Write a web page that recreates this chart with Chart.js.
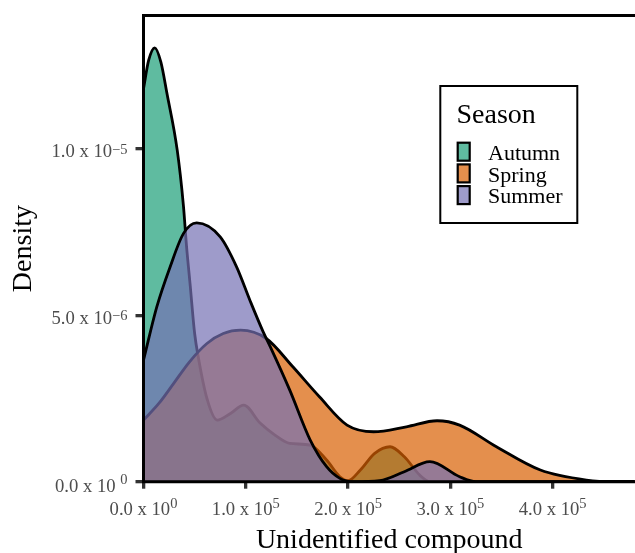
<!DOCTYPE html>
<html>
<head>
<meta charset="utf-8">
<script src="https://cdn.jsdelivr.net/npm/chart.js@4"></script>
<style>
  html, body { margin: 0; padding: 0; background: #fff; }
  #wrap { width: 635px; height: 553px; }
</style>
</head>
<body>
<div id="wrap"><canvas id="myChart" width="635" height="553"></canvas></div>
<script>
// density curves (x = compound, y = density)
const seasons = ['Autumn', 'Spring', 'Summer'];

const autumnX = [0, 5e3, 11e3, 17e3, 23e3, 33e3, 39e3, 42e3, 45.5e3, 50e3, 53.5e3, 62e3, 72e3, 85e3, 98e3, 114e3, 128.5e3, 143e3, 163e3, 179e3, 192e3, 200e3, 212e3, 226e3, 241e3, 255e3, 270e3, 280e3, 480e3];
const autumnY = [11.8e-6, 12.65e-6, 13.03e-6, 12.6e-6, 11.65e-6, 9.95e-6, 8.3e-6, 7.1e-6, 5.95e-6, 4.45e-6, 3.75e-6, 2.5e-6, 1.85e-6, 2.05e-6, 2.3e-6, 1.76e-6, 1.4e-6, 1.15e-6, 1.1e-6, 0.65e-6, 0.15e-6, 0.03e-6, 0.35e-6, 0.85e-6, 1.05e-6, 0.75e-6, 0.2e-6, 0, 0];

const springX = [0, 15e3, 29e3, 45e3, 62e3, 78e3, 95e3, 120e3, 146e3, 172e3, 199e3, 225e3, 257e3, 287e3, 309e3, 345e3, 388e3, 433e3, 460e3, 480e3];
const springY = [1.85e-6, 2.35e-6, 2.93e-6, 3.6e-6, 4.15e-6, 4.45e-6, 4.55e-6, 4.3e-6, 3.45e-6, 2.55e-6, 1.7e-6, 1.5e-6, 1.65e-6, 1.83e-6, 1.7e-6, 1.05e-6, 0.35e-6, 0.05e-6, 0, 0];

const summerX = [0, 13e3, 26e3, 39e3, 52e3, 75e3, 91e3, 104e3, 117e3, 124e3, 143e3, 163e3, 179e3, 192e3, 205e3, 231e3, 255e3, 280e3, 309e3, 325e3, 480e3];
const summerY = [3.65e-6, 5.25e-6, 6.45e-6, 7.45e-6, 7.77e-6, 7.35e-6, 6.45e-6, 5.45e-6, 4.5e-6, 4.05e-6, 2.75e-6, 1.25e-6, 0.45e-6, 0.1e-6, 0, 0.03e-6, 0.3e-6, 0.6e-6, 0.15e-6, 0, 0];

const xTickValues = [0, 1e5, 2e5, 3e5, 4e5];
const xTickBase = ['0.0 x 10', '1.0 x 10', '2.0 x 10', '3.0 x 10', '4.0 x 10'];
const xTickSup = ['0', '5', '5', '5', '5'];

const yTickValues = [0, 5e-6, 1e-5];
const yTickBase = ['0.0 x 10 ', '5.0 x 10', '1.0 x 10'];
const yTickSup = ['0', '\u22126', '\u22125'];

const colors = ['rgba(27,158,119,0.7)', 'rgba(217,95,2,0.7)', 'rgba(117,112,179,0.7)'];

const SERIF = '"Liberation Serif", "Times New Roman", serif';

function pts(xs, ys) {
    return xs.map((x, i) => ({ x: x, y: ys[i] }));
}

function supLabel(ctx, base, sup, x, y, align, raise) {
    ctx.font = '18.67px ' + SERIF;
    const wb = ctx.measureText(base).width;
    ctx.font = '14.5px ' + SERIF;
    const ws = ctx.measureText(sup).width;
    const left = align === 'right' ? x - wb - ws : x - (wb + ws) / 2;
    ctx.textAlign = 'left';
    ctx.textBaseline = 'alphabetic';
    ctx.font = '18.67px ' + SERIF;
    ctx.fillText(base, left, y);
    ctx.font = '14.5px ' + SERIF;
    ctx.fillText(sup, left + wb, y - raise);
}

// frame, tick labels and the boxed legend
const extras = {
    id: 'extras',
    afterDatasetsDraw(chart) {
        const ctx = chart.ctx;
        const a = chart.chartArea;
        ctx.save();
        ctx.strokeStyle = '#000';
        ctx.lineWidth = 3;
        ctx.beginPath();
        ctx.moveTo(chart.width + 5, a.top);
        ctx.lineTo(a.left, a.top);
        ctx.lineTo(a.left, a.bottom);
        ctx.lineTo(chart.width + 5, a.bottom);
        ctx.stroke();
        ctx.restore();
    },
    afterDraw(chart) {
        const ctx = chart.ctx;
        const xs = chart.scales.x, ys = chart.scales.y;
        ctx.save();
        ctx.fillStyle = '#4d4d4d';
        xTickValues.forEach((v, i) => {
            supLabel(ctx, xTickBase[i], xTickSup[i], xs.getPixelForValue(v), 515, 'center', 7);
        });
        yTickValues.forEach((v, i) => {
            const py = ys.getPixelForValue(v);
            supLabel(ctx, yTickBase[i], yTickSup[i], 127.5, py + (i === 0 ? 10 : 8.5), 'right', i === 0 ? 8 : 3.5);
        });

        // legend
        ctx.strokeStyle = '#000';
        ctx.lineWidth = 2;
        ctx.strokeRect(440.3, 86, 137, 137);
        ctx.fillStyle = '#000';
        ctx.textAlign = 'left';
        ctx.textBaseline = 'alphabetic';
        ctx.font = '28px ' + SERIF;
        ctx.fillText('Season', 456.5, 123.3);
        ctx.font = '22px ' + SERIF;
        seasons.forEach((s, i) => {
            const top = 141.7 + i * 21.7;
            ctx.fillStyle = colors[i];
            ctx.fillRect(457.7, top + 1, 12, 18);
            ctx.strokeStyle = '#000';
            ctx.lineWidth = 2.2;
            ctx.strokeRect(457.7, top + 1, 12, 18);
            ctx.fillStyle = '#000';
            ctx.fillText(s, 488, top + 18.3);
        });
        ctx.restore();
    }
};

const data = {
    datasets: [
        { label: seasons[0], data: pts(autumnX, autumnY), backgroundColor: colors[0], order: 3 },
        { label: seasons[1], data: pts(springX, springY), backgroundColor: colors[1], order: 2 },
        { label: seasons[2], data: pts(summerX, summerY), backgroundColor: colors[2], order: 1 }
    ]
};

const config = {
    type: 'line',
    data: data,
    options: {
        responsive: false,
        animation: false,
        layout: { padding: { top: 15.5, right: 0, left: 0, bottom: 0 } },
        elements: {
            point: { radius: 0 },
            line: { borderColor: '#000', borderWidth: 2.8, fill: 'origin', cubicInterpolationMode: 'monotone' }
        },
        plugins: {
            legend: { display: false },
            tooltip: { enabled: false }
        },
        scales: {
            x: {
                type: 'linear',
                min: 0,
                max: 480500,
                afterBuildTicks: (s) => { s.ticks = xTickValues.map(v => ({ value: v })); },
                afterFit: (s) => { s.height = 71.3; },
                ticks: { display: false },
                border: { display: false },
                grid: { drawOnChartArea: false, drawTicks: true, tickLength: 7, tickColor: '#333', lineWidth: 3.3 },
                title: {
                    display: true,
                    text: 'Unidentified compound',
                    color: '#000',
                    font: { family: SERIF, size: 28 },
                    padding: { top: 0, bottom: -4 }
                }
            },
            y: {
                type: 'linear',
                min: 0,
                max: 1.4e-5,
                afterBuildTicks: (s) => { s.ticks = yTickValues.map(v => ({ value: v })); },
                afterFit: (s) => { s.width = 143.5; },
                ticks: { display: false },
                border: { display: false },
                grid: { drawOnChartArea: false, drawTicks: true, tickLength: 8, tickColor: '#333', lineWidth: 3.3 },
                title: {
                    display: true,
                    text: 'Density',
                    color: '#000',
                    font: { family: SERIF, size: 28 },
                    padding: { top: 7, bottom: 0 }
                }
            }
        }
    },
    plugins: [extras]
};

const myChart = new Chart(document.getElementById('myChart'), config);
</script>
</body>
</html>
